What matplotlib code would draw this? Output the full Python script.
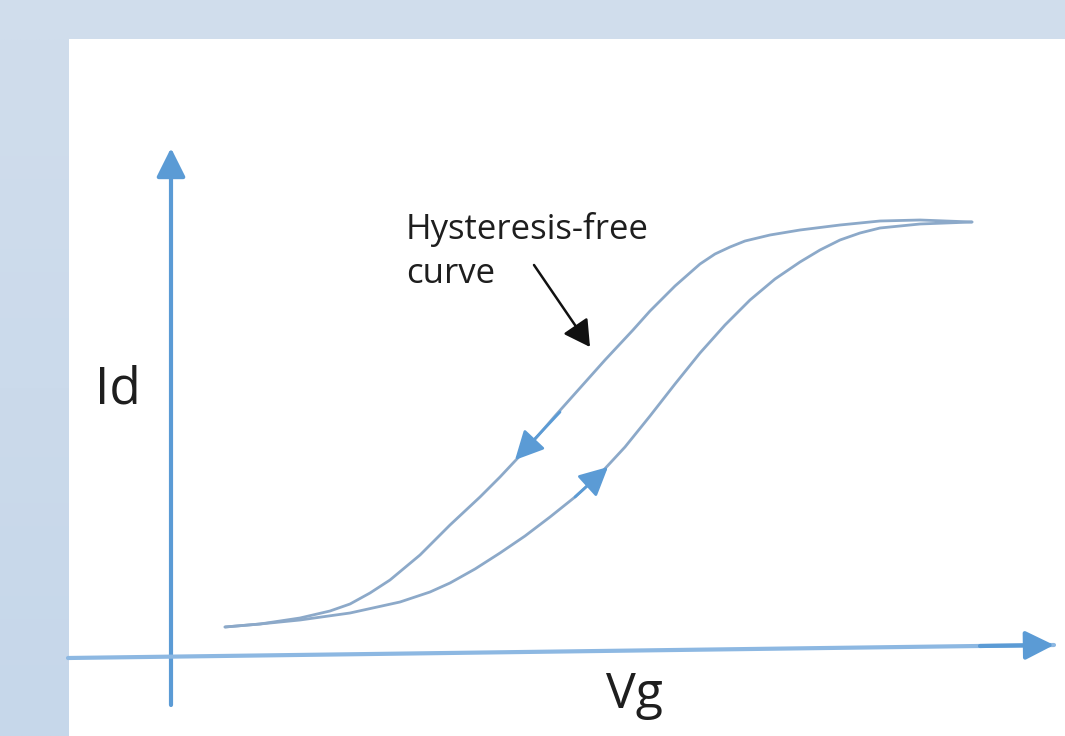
import matplotlib.pyplot as plt
from matplotlib.colors import LinearSegmentedColormap
from matplotlib.patches import Rectangle
import numpy as np

# hysteresis loop (arbitrary units)
vg_forward = [0.54, 0.89, 1.29, 1.79, 2.29, 2.59, 2.79, 3.04, 3.29, 3.54, 3.79, 4.04, 4.29, 4.54,
              4.79, 5.04, 5.29, 5.54, 5.79, 6.04, 6.29, 6.49, 6.69, 6.89, 7.09, 7.49, 8.01]
id_forward = [0.30, 0.33, 0.37, 0.44, 0.55, 0.65, 0.74, 0.88, 1.04, 1.21, 1.40, 1.60, 1.83, 2.10,
              2.41, 2.73, 3.04, 3.32, 3.57, 3.78, 3.95, 4.07, 4.17, 4.24, 4.29, 4.33, 4.35]

vg_reverse = [8.01, 7.49, 7.09, 6.69, 6.29, 5.99, 5.74, 5.59, 5.44, 5.29, 5.04, 4.79, 4.62, 4.34,
              4.09, 3.84, 3.59, 3.29, 3.09, 2.79, 2.49, 2.19, 1.99, 1.79, 1.59, 1.29, 0.89, 0.54]
id_reverse = [4.35, 4.37, 4.36, 4.32, 4.27, 4.22, 4.16, 4.10, 4.03, 3.93, 3.71, 3.46, 3.27, 2.97,
              2.69, 2.41, 2.12, 1.80, 1.60, 1.32, 1.02, 0.77, 0.64, 0.53, 0.46, 0.39, 0.33, 0.30]

# sweep direction arrows (tail -> tip)
fwd_arrow = [(4.04, 1.60), (4.37, 1.90)]
rev_arrow = [(3.89, 2.45), (3.44, 1.97)]
free_arrow = [(3.63, 3.92), (4.19, 3.10)]

label_text = "Hysteresis-free\ncurve"
x_label = "Vg"
y_label = "Id"

W, H = 1065, 736
OX, OY, S = 171, 657, 100.0


def to_data(xp, yp):
    return (xp - OX) / S, (OY - yp) / S


fig = plt.figure(figsize=(W / 100, H / 100), dpi=100)
fig.patch.set_facecolor("#D0DDEC")
ax = fig.add_axes([0, 0, 1, 1])
x0, y1 = to_data(0, 0)
x1, y0 = to_data(W, H)

# left strip gradient
grad = np.linspace(0, 1, 256).reshape(-1, 1)
sx0, sy0 = to_data(0, 39)
sx1, sy1 = to_data(69, H)
ax.imshow(grad, extent=(sx0, sx1, sy1, sy0), origin="lower", aspect="auto", zorder=0,
          cmap=LinearSegmentedColormap.from_list("bg", ["#C6D7EA", "#D0DDEC"]))
ax.set_xlim(x0, x1)
ax.set_ylim(y0, y1)
ax.axis("off")

# white panel
px0, py1 = to_data(69, 39)
ax.add_patch(Rectangle((px0, y0), x1 - px0, py1 - y0, facecolor="white", edgecolor="none", zorder=1))

axis_blue = "#5B9BD5"
ax_style = dict(arrowstyle="-|>,head_length=0.8,head_width=0.4", mutation_scale=22,
                color=axis_blue, shrinkA=0, shrinkB=0)

# axes arrows
ax.annotate("", xy=to_data(171, 148), xytext=to_data(171, 705),
            arrowprops=dict(lw=3, **ax_style), zorder=3)
ax.annotate("", xy=to_data(1054, 645), xytext=to_data(68, 658),
            arrowprops=dict(lw=3, color="#8DB8E2", arrowstyle="-", shrinkA=0, shrinkB=0), zorder=3)
ax.annotate("", xy=to_data(1054, 645), xytext=to_data(980, 646),
            arrowprops=dict(lw=3, **ax_style), zorder=3)

# loop
curve_col = "#8CA9C9"
ax.plot(vg_forward, id_forward, color=curve_col, lw=2, zorder=4, solid_capstyle="round", solid_joinstyle="round")
ax.plot(vg_reverse, id_reverse, color=curve_col, lw=2, zorder=4, solid_capstyle="round", solid_joinstyle="round")

for tail, tip in (fwd_arrow, rev_arrow):
    ax.annotate("", xy=tip, xytext=tail,
                arrowprops=dict(lw=2, **ax_style), zorder=5)

ax.annotate("", xy=free_arrow[1], xytext=free_arrow[0],
            arrowprops=dict(arrowstyle="-|>,head_length=0.8,head_width=0.45", mutation_scale=20,
                            color="#111111", lw=1.8, shrinkA=0, shrinkB=0), zorder=5)

txt = "#1E1E1E"
font = "Open Sans"
line1, line2 = label_text.split("\n")
tx, ty = to_data(406, 239)
ax.text(tx, ty, line1, fontsize=25, family=font, color=txt, ha="left", va="baseline", zorder=6)
tx, ty = to_data(406, 283)
ax.text(tx, ty, line2, fontsize=25, family=font, color=txt, ha="left", va="baseline", zorder=6)
tx, ty = to_data(95, 403)
ax.text(tx, ty, y_label, fontsize=37, family=font, color=txt, ha="left", va="baseline", zorder=6)
tx, ty = to_data(606, 708)
ax.text(tx, ty, x_label, fontsize=36, family=font, color=txt, ha="left", va="baseline", zorder=6)

fig.savefig("out.png", dpi=100, facecolor=fig.get_facecolor())
